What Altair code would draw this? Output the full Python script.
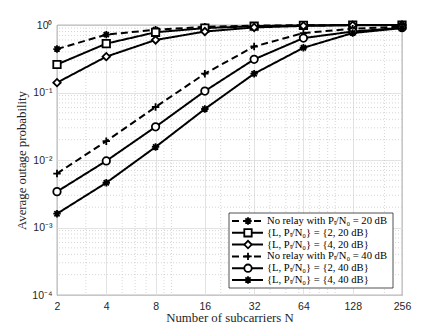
import altair as alt
import pandas as pd

N = [2, 4, 8, 16, 32, 64, 128, 256]
s_nr20 = [0.44, 0.72, 0.85, 0.94, 0.98, 0.99, 1.0, 1.0]
s_l2_20 = [0.26, 0.53, 0.78, 0.90, 0.96, 0.99, 1.0, 1.0]
s_l4_20 = [0.14, 0.34, 0.60, 0.80, 0.92, 0.97, 0.99, 1.0]
s_nr40 = [0.0063, 0.019, 0.061, 0.19, 0.48, 0.76, 0.88, 0.95]
s_l2_40 = [0.0034, 0.0097, 0.031, 0.105, 0.31, 0.64, 0.80, 0.91]
s_l4_40 = [0.0016, 0.0046, 0.0156, 0.057, 0.19, 0.46, 0.76, 0.90]

labels = [
    "No relay with Pₜ/N₀ = 20 dB",
    "{L, Pₜ/N₀} = {2, 20 dB}",
    "{L, Pₜ/N₀} = {4, 20 dB}",
    "No relay with Pₜ/N₀ = 40 dB",
    "{L, Pₜ/N₀} = {2, 40 dB}",
    "{L, Pₜ/N₀} = {4, 40 dB}",
]
series_vals = [s_nr20, s_l2_20, s_l4_20, s_nr40, s_l2_40, s_l4_40]

x_ticks = N
y_ticks = [1e-4, 1e-3, 1e-2, 1e-1, 1]
x_minor = [3, 5, 6, 7, 9, 10, 20, 30, 40, 50, 60, 70, 80, 90, 100, 200]
y_minor = [k * 10.0 ** e for e in [-4, -3, -2, -1] for k in range(2, 10)]

rows = []
for lab, vals in zip(labels, series_vals):
    for n, v in zip(N, vals):
        rows.append({"series": lab, "N": n, "p": v})
df = pd.DataFrame(rows)

asterisk = "M-1,0L1,0M0,-1L0,1M-0.7,-0.7L0.7,0.7M-0.7,0.7L0.7,-0.7"
plus = "M-1,0L1,0M0,-1L0,1"
shapes = [asterisk, "square", "diamond", plus, "circle", asterisk]
dashes = [[7, 4], [1, 0], [1, 0], [7, 4], [1, 0], [1, 0]]

xscale = alt.Scale(type="log", base=2, domain=[2, 256], nice=False)
yscale = alt.Scale(type="log", domain=[1e-4, 1], nice=False)

ylabel_expr = ("round(log(datum.value)/LN10) == 0 ? '10⁰' : "
               "round(log(datum.value)/LN10) == -1 ? '10⁻¹' : "
               "round(log(datum.value)/LN10) == -2 ? '10⁻²' : "
               "round(log(datum.value)/LN10) == -3 ? '10⁻³' : '10⁻⁴'")

x_axis = alt.Axis(values=x_ticks, title="Number of subcarriers N", grid=True,
                  gridColor="#dcdcdc", gridWidth=0.8, ticks=False, domain=False,
                  labelFont="Liberation Sans", labelFontSize=10.5, labelColor="#262626",
                  labelPadding=6, titleFont="Liberation Serif", titleFontSize=12.8,
                  titleFontWeight="normal", titleColor="#262626", titlePadding=0,
                  labelFlush=False)
y_axis = alt.Axis(values=y_ticks, title="Average outage probability", grid=True,
                  gridColor="#dcdcdc", gridWidth=0.8, ticks=False, domain=False,
                  labelExpr=ylabel_expr, labelFont="Liberation Sans", labelFontSize=10.5,
                  labelColor="#262626", labelPadding=5, titleFont="Liberation Serif",
                  titleFontSize=12.8, titleFontWeight="normal", titleColor="#262626",
                  titlePadding=3, labelFlush=False)

xm = pd.DataFrame({"v": x_minor})
ym = pd.DataFrame({"v": y_minor})
minor_x = alt.Chart(xm).mark_rule(color="#c4c4c4", strokeDash=[1, 2], strokeWidth=0.7).encode(
    x=alt.X("v:Q", scale=xscale, axis=x_axis))
minor_y = alt.Chart(ym).mark_rule(color="#c4c4c4", strokeDash=[1, 2], strokeWidth=0.7).encode(
    y=alt.Y("v:Q", scale=yscale, axis=y_axis))

lines = alt.Chart(df).mark_line(color="black", strokeWidth=2).encode(
    x=alt.X("N:Q", scale=xscale, axis=x_axis),
    y=alt.Y("p:Q", scale=yscale, axis=y_axis),
    detail="series:N",
    strokeDash=alt.StrokeDash("series:N", scale=alt.Scale(domain=labels, range=dashes), legend=None),
)
points = alt.Chart(df).mark_point(color="black", fill="white", filled=False, strokeWidth=1.8, size=55, opacity=1).encode(
    x=alt.X("N:Q", scale=xscale, axis=x_axis),
    y=alt.Y("p:Q", scale=yscale, axis=y_axis),
    shape=alt.Shape("series:N", scale=alt.Scale(domain=labels, range=shapes), legend=None),
)

# custom legend (line + marker + label)
leg = pd.DataFrame({"series": labels})
leg_y = alt.Y("series:N", scale=alt.Scale(type="point", domain=labels, range=[196, 255], padding=0), axis=None)
leg_box = alt.Chart(pd.DataFrame({"a": [0]})).mark_rect(fill="white", stroke="#262626", strokeWidth=0.8).encode(
    x=alt.value(172), x2=alt.value(336), y=alt.value(188), y2=alt.value(263))
leg_line = alt.Chart(leg).mark_rule(color="black", strokeWidth=2).encode(
    x=alt.value(175), x2=alt.value(206), y=leg_y,
    strokeDash=alt.StrokeDash("series:N", scale=alt.Scale(domain=labels, range=dashes), legend=None))
leg_pt = alt.Chart(leg).mark_point(color="black", fill="white", filled=False, strokeWidth=1.8, size=55, opacity=1).encode(
    x=alt.value(191), y=leg_y,
    shape=alt.Shape("series:N", scale=alt.Scale(domain=labels, range=shapes), legend=None))
leg_txt = alt.Chart(leg).mark_text(align="left", baseline="middle", font="Liberation Serif", fontSize=10.6, color="black").encode(
    x=alt.value(210), y=leg_y, text="series:N")

main = alt.layer(minor_x, minor_y, lines, points)
legend = alt.layer(leg_box, leg_line, leg_pt, leg_txt)

chart = alt.layer(main, legend).resolve_scale(y="independent").properties(
    width=345, height=270,
    padding={"left": 49, "top": 17, "right": 25, "bottom": 36},
    autosize=alt.AutoSizeParams(type="none"),
).configure_view(stroke="#262626", strokeWidth=0.8)

chart.save("out.html", embed_options={"renderer": "svg", "actions": False})
